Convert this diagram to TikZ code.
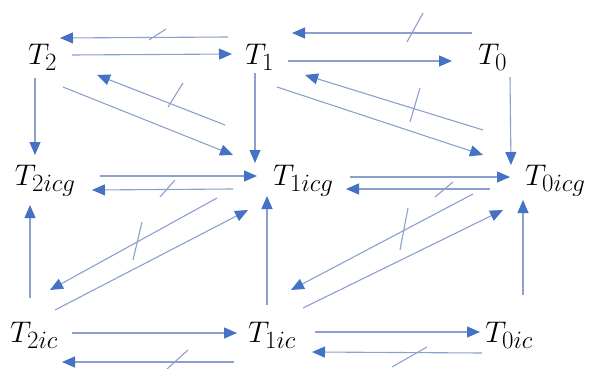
\documentclass[tikz,border=0pt]{standalone}
\usepackage{graphicx}
\usetikzlibrary{arrows.meta,calc}
\definecolor{lineblue}{RGB}{140,160,205}
\definecolor{headblue}{RGB}{68,114,196}
\newcommand\biglbl[1]{\scalebox{1.2}{\Huge$#1$}}
\tikzset{
  lbl/.style={anchor=base west,inner sep=0pt,outer sep=0pt,text=black},
  arr/.style={draw=lineblue,line width=1.1pt,-{Triangle[length=13pt,width=11pt,fill=headblue,color=headblue]}},
  slashmark/.style={draw=lineblue,line width=1.1pt},
}
\begin{document}
\begin{tikzpicture}[x=1pt,y=-1pt]
\useasboundingbox (0,0) rectangle (592,369);
% nodes
\node[lbl] (T2) at (28,65) {\biglbl{T_2}};
\node[lbl] (T1) at (245,65) {\biglbl{T_1}};
\node[lbl] (T0) at (478,65) {\biglbl{T_0}};
\node[lbl] (T2icg) at (15,185) {\biglbl{T_{2icg}}};
\node[lbl] (T1icg) at (273,185) {\biglbl{T_{1icg}}};
\node[lbl] (T0icg) at (525,185) {\biglbl{T_{0icg}}};
\node[lbl] (T2ic) at (10,342) {\biglbl{T_{2ic}}};
\node[lbl] (T1ic) at (248,342) {\biglbl{T_{1ic}}};
\node[lbl] (T0ic) at (485,342) {\biglbl{T_{0ic}}};
% top row
\draw[arr] ($(T1.base west)+(228-245,37-65)$) -- ($(T2.base west)+(60-28,38-65)$);
\draw[arr] ($(T2.base west)+(72-28,55-65)$) -- ($(T1.base west)+(232-245,54-65)$);
\draw[arr] ($(T0.base west)+(472-478,33-65)$) -- ($(T1.base west)+(292-245,33-65)$);
\draw[arr] ($(T1.base west)+(288-245,61-65)$) -- ($(T0.base west)+(452-478,61-65)$);
% upper diagonals
\draw[arr] ($(T2.base west)+(63-28,87-65)$) -- ($(T1icg.base west)+(233-273,155-185)$);
\draw[arr] ($(T1icg.base west)+(225-273,125-185)$) -- ($(T2.base west)+(97-28,75-65)$);
\draw[arr] ($(T1.base west)+(277-245,87-65)$) -- ($(T0icg.base west)+(483-525,155-185)$);
\draw[arr] ($(T0icg.base west)+(483-525,130-185)$) -- ($(T1.base west)+(305-245,75-65)$);
% upper verticals
\draw[arr] ($(T2.base west)+(35-28,78-65)$) -- ($(T2icg.base west)+(35-15,155-185)$);
\draw[arr] ($(T1.base west)+(255-245,73-65)$) -- ($(T1icg.base west)+(255-273,163-185)$);
\draw[arr] ($(T0.base west)+(510-478,77-65)$) -- ($(T0icg.base west)+(511-525,165-185)$);
% middle row
\draw[arr] ($(T2icg.base west)+(100-15,176-185)$) -- ($(T1icg.base west)+(257-273,176-185)$);
\draw[arr] ($(T1icg.base west)+(233-273,189-185)$) -- ($(T2icg.base west)+(92-15,190-185)$);
\draw[arr] ($(T1icg.base west)+(350-273,177-185)$) -- ($(T0icg.base west)+(510-525,177-185)$);
\draw[arr] ($(T0icg.base west)+(490-525,189-185)$) -- ($(T1icg.base west)+(346-273,189-185)$);
% lower verticals
\draw[arr] ($(T2ic.base west)+(30-10,298-342)$) -- ($(T2icg.base west)+(30-15,205-185)$);
\draw[arr] ($(T1ic.base west)+(267-248,305-342)$) -- ($(T1icg.base west)+(267-273,196-185)$);
\draw[arr] ($(T0ic.base west)+(523-485,295-342)$) -- ($(T0icg.base west)+(523-525,200-185)$);
% lower diagonals
\draw[arr] ($(T1icg.base west)+(217-273,198-185)$) -- ($(T2ic.base west)+(50-10,290-342)$);
\draw[arr] ($(T2ic.base west)+(55-10,310-342)$) -- ($(T1icg.base west)+(248-273,210-185)$);
\draw[arr] ($(T0icg.base west)+(473-525,194-185)$) -- ($(T1ic.base west)+(291-248,290-342)$);
\draw[arr] ($(T1ic.base west)+(303-248,308-342)$) -- ($(T0icg.base west)+(503-525,210-185)$);
% bottom row
\draw[arr] ($(T2ic.base west)+(72-10,333-342)$) -- ($(T1ic.base west)+(237-248,333-342)$);
\draw[arr] ($(T1ic.base west)+(234-248,362-342)$) -- ($(T2ic.base west)+(62-10,362-342)$);
\draw[arr] ($(T1ic.base west)+(315-248,332-342)$) -- ($(T0ic.base west)+(480-485,332-342)$);
\draw[arr] ($(T0ic.base west)+(482-485,353-342)$) -- ($(T1ic.base west)+(312-248,352-342)$);
% slash marks
\draw[slashmark] (149,40) -- (166,29);
\draw[slashmark] (407,42) -- (423,13);
\draw[slashmark] (168,107) -- (183,83);
\draw[slashmark] (410,122) -- (420,88);
\draw[slashmark] (160,197) -- (175,180);
\draw[slashmark] (435,197) -- (453,182);
\draw[slashmark] (133,260) -- (142,222);
\draw[slashmark] (400,250) -- (408,208);
\draw[slashmark] (167,369) -- (188,350);
\draw[slashmark] (392,367) -- (427,347);
\end{tikzpicture}
\end{document}
